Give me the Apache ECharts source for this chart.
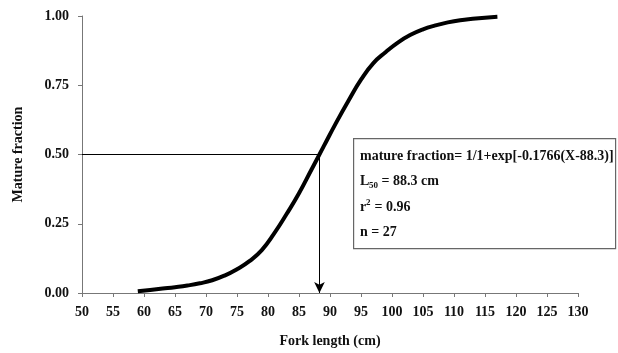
<!DOCTYPE html>
<html>
<head>
<meta charset="utf-8">
<script src="https://cdn.jsdelivr.net/npm/echarts@6/dist/echarts.min.js"></script>
<style>html,body{margin:0;padding:0;background:#fff;}#c{width:618px;height:353px;}</style>
</head>
<body>
<div id="c"></div>
<script>
// Values
var forkLength = [59, 61, 63, 65, 67, 69, 71, 73, 75, 77, 79, 81, 83, 85, 87, 89, 91, 93, 95, 97, 99, 101, 103, 105, 107, 109, 111, 113, 115, 117];
var matureFraction = [0.006, 0.011, 0.016, 0.021, 0.027, 0.035, 0.046, 0.063, 0.086, 0.115, 0.155, 0.215, 0.285, 0.360, 0.445, 0.530, 0.615, 0.695, 0.770, 0.830, 0.870, 0.905, 0.932, 0.952, 0.966, 0.977, 0.985, 0.990, 0.994, 0.997];
var L50 = 88.3;
var halfFraction = 0.5;
var xTicks = [50, 130, 5];
var yTicks = [0, 1, 0.25];
var formulaText = 'mature fraction= 1/1+exp[-0.1766(X-88.3)]';
var l50Text = ['L', '50', ' = 88.3 cm'];
var r2Text = ['r', '2', ' = 0.96'];
var nText = 'n = 27';

var font = 'Liberation Serif';
var curve = forkLength.map(function (x, i) { return [x, matureFraction[i]]; });

function txt(s, x, y, size) {
  return { type: 'text', left: x, top: y, z: 11,
    style: { text: s, fontFamily: font, fontWeight: 'bold', fontSize: size, fill: '#111' } };
}

var chart = echarts.init(document.getElementById('c'), null, { renderer: 'canvas' });
chart.setOption({
  animation: false,
  backgroundColor: '#fff',
  grid: { left: 82, right: 40, top: 16, bottom: 60 },
  xAxis: {
    type: 'value', min: xTicks[0], max: xTicks[1], interval: xTicks[2],
    name: 'Fork length (cm)', nameLocation: 'middle', nameGap: 41,
    nameTextStyle: { fontFamily: font, fontWeight: 'bold', fontSize: 14, color: '#111' },
    axisLine: { lineStyle: { color: '#777', width: 1 } },
    axisTick: { length: 4, lineStyle: { color: '#777' } },
    axisLabel: { fontFamily: font, fontWeight: 'bold', fontSize: 14, color: '#111', margin: 12 },
    splitLine: { show: false }
  },
  yAxis: {
    type: 'value', min: yTicks[0], max: yTicks[1], interval: yTicks[2],
    name: 'Mature fraction', nameLocation: 'middle', nameGap: 57, nameRotate: 90,
    nameTextStyle: { fontFamily: font, fontWeight: 'bold', fontSize: 14, color: '#111' },
    axisLine: { show: true, lineStyle: { color: '#777', width: 1 } },
    axisTick: { show: true, length: 4, lineStyle: { color: '#777' } },
    axisLabel: { fontFamily: font, fontWeight: 'bold', fontSize: 14, color: '#111', margin: 13,
      formatter: function (v) { return v.toFixed(2); } },
    splitLine: { show: false }
  },
  series: [{
    type: 'line', data: curve, smooth: true, showSymbol: false,
    lineStyle: { color: '#000', width: 4 },
    markLine: {
      silent: true, animation: false,
      label: { show: false },
      data: [
        [{ coord: [xTicks[0], halfFraction], symbol: 'none' }, { coord: [L50, halfFraction], symbol: 'none' }],
        [{ coord: [L50, halfFraction], symbol: 'none' }, { coord: [L50, 0], symbol: 'arrow', symbolSize: [8, 11] }]
      ],
      lineStyle: { color: '#000', width: 1, type: 'solid' }
    }
  }],
  graphic: [
    { type: 'rect', left: 353, top: 138, shape: { width: 262, height: 110 },
      style: { fill: '#fff', stroke: '#666', lineWidth: 1.2 }, z: 10 },
    txt(formulaText, 360, 149, 14),
    txt(l50Text[0], 360, 174, 14),
    txt(l50Text[1], 369, 181, 9),
    txt(l50Text[2], 378, 174, 14),
    txt(r2Text[0], 360, 200, 14),
    txt(r2Text[1], 366, 198, 9),
    txt(r2Text[2], 371, 200, 14),
    txt(nText, 360, 225, 14)
  ]
});
</script>
</body>
</html>
